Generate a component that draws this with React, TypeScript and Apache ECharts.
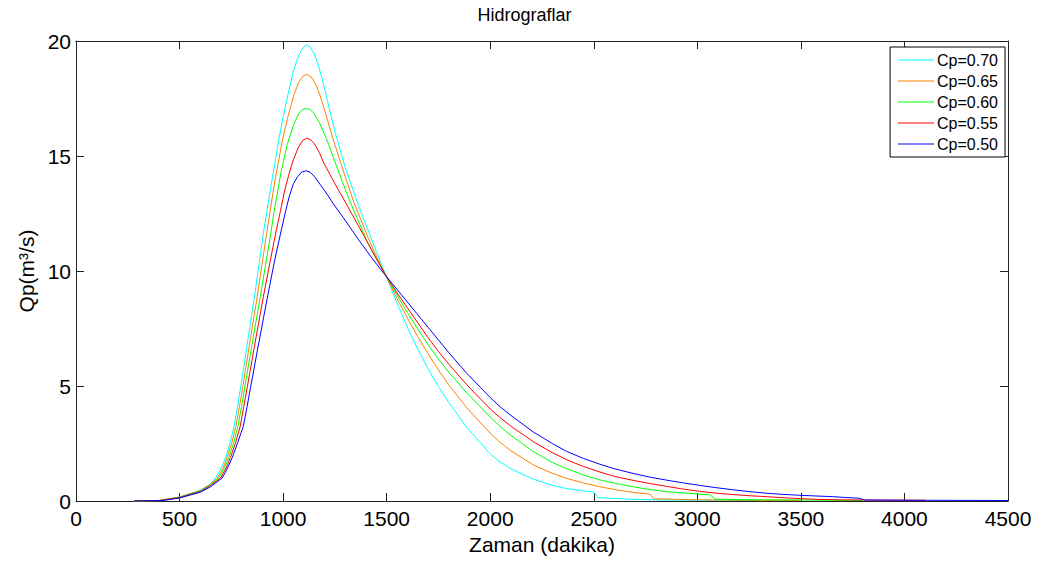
import React, { useEffect, useRef } from "react";
import * as echarts from "echarts";

const titleText = "Hidrograflar";
const xName = "Zaman (dakika)";
const yName = "Qp(m³/s)";
const xTicks = { min: 0, max: 4500, interval: 500 };
const yTicks = { min: 0, max: 20, interval: 5 };

const names = ["Cp=0.70", "Cp=0.65", "Cp=0.60", "Cp=0.55", "Cp=0.50"];
const colors = ["#00FFFF", "#FF8000", "#00FF00", "#FF0000", "#0000FF"];

const cp70T = [280, 400, 500, 600, 650, 674, 700, 723, 745, 763, 780, 795, 824, 862, 904, 940, 979, 1000, 1028, 1050, 1068, 1090, 1113, 1130, 1150, 1170, 1190, 1210, 1230, 1252, 1300, 1350, 1400, 1450, 1490, 1550, 1600, 1650, 1700, 1750, 1800, 1887, 2000, 2047, 2100, 2208, 2300, 2368, 2450, 2500, 2520, 2600, 2700, 2850, 3300];
const cp70Q = [0, 0.02, 0.18, 0.47, 0.75, 1.0, 1.4, 1.9, 2.55, 3.25, 4.1, 4.95, 6.65, 8.9, 11.6, 13.6, 15.7, 16.7, 17.85, 18.7, 19.2, 19.65, 19.84, 19.75, 19.45, 18.95, 18.3, 17.55, 16.8, 16.0, 14.5, 13.2, 12.0, 10.85, 9.95, 8.6, 7.55, 6.6, 5.75, 4.98, 4.28, 3.2, 2.05, 1.7, 1.4, 0.95, 0.68, 0.54, 0.44, 0.39, 0.15, 0.11, 0.07, 0.04, 0.02];

const cp65T = [280, 400, 500, 600, 650, 682, 708, 730, 753, 772, 789, 805, 835, 875, 920, 960, 995, 1020, 1050, 1075, 1095, 1113, 1130, 1150, 1170, 1190, 1215, 1244, 1300, 1341, 1413, 1450, 1490, 1550, 1600, 1650, 1700, 1750, 1800, 1887, 2000, 2047, 2100, 2208, 2300, 2368, 2450, 2529, 2600, 2689, 2770, 2790, 2900, 3000, 3500];
const cp65Q = [0, 0.02, 0.17, 0.45, 0.72, 1.0, 1.4, 1.9, 2.55, 3.25, 4.1, 4.95, 6.65, 8.9, 11.6, 13.9, 15.6, 16.6, 17.6, 18.2, 18.47, 18.55, 18.48, 18.25, 17.85, 17.3, 16.55, 15.65, 14.1, 13.0, 11.4, 10.65, 9.9, 8.8, 7.95, 7.15, 6.4, 5.7, 5.05, 4.05, 2.95, 2.55, 2.18, 1.57, 1.2, 0.99, 0.78, 0.62, 0.5, 0.37, 0.3, 0.1, 0.07, 0.05, 0.02];

const cp60T = [280, 400, 500, 600, 650, 690, 715, 738, 762, 782, 799, 815, 847, 890, 940, 955, 990, 1020, 1050, 1076, 1095, 1113, 1130, 1150, 1175, 1200, 1220, 1250, 1300, 1333, 1405, 1450, 1490, 1550, 1600, 1650, 1700, 1750, 1800, 1887, 2000, 2047, 2100, 2208, 2300, 2368, 2450, 2529, 2600, 2689, 2770, 2850, 2930, 3011, 3060, 3090, 3200, 3400, 3800];
const cp60Q = [0, 0.02, 0.16, 0.43, 0.7, 1.0, 1.4, 1.9, 2.55, 3.25, 4.1, 4.95, 6.65, 8.9, 11.6, 12.5, 14.3, 15.5, 16.35, 16.85, 17.03, 17.07, 17.02, 16.85, 16.45, 15.95, 15.5, 14.75, 13.55, 12.8, 11.3, 10.55, 9.9, 8.95, 8.2, 7.48, 6.8, 6.17, 5.6, 4.7, 3.65, 3.25, 2.85, 2.15, 1.68, 1.41, 1.13, 0.92, 0.77, 0.62, 0.5, 0.41, 0.35, 0.3, 0.27, 0.08, 0.06, 0.05, 0.02];

const cp55T = [280, 400, 500, 600, 650, 698, 723, 746, 771, 793, 810, 827, 860, 905, 963, 987, 1010, 1028, 1050, 1075, 1095, 1113, 1130, 1150, 1175, 1196, 1250, 1300, 1389, 1440, 1490, 1550, 1600, 1650, 1700, 1750, 1800, 1887, 2000, 2047, 2100, 2208, 2300, 2368, 2450, 2529, 2600, 2689, 2770, 2850, 2930, 3011, 3090, 3171, 3250, 3332, 3400, 3460, 3572, 3700, 4100];
const cp55Q = [0, 0.02, 0.15, 0.41, 0.68, 1.0, 1.4, 1.9, 2.55, 3.25, 4.1, 4.95, 6.65, 8.9, 11.6, 12.6, 13.6, 14.2, 14.85, 15.4, 15.68, 15.77, 15.72, 15.55, 15.15, 14.7, 13.8, 13.0, 11.55, 10.7, 9.9, 9.05, 8.4, 7.75, 7.1, 6.5, 5.95, 5.05, 4.0, 3.63, 3.25, 2.58, 2.1, 1.8, 1.5, 1.26, 1.07, 0.9, 0.76, 0.64, 0.52, 0.42, 0.34, 0.28, 0.23, 0.19, 0.15, 0.12, 0.07, 0.05, 0.03];

const cp50T = [280, 420, 500, 600, 650, 706, 730, 755, 781, 808, 826, 843, 878, 923, 960, 987, 1012, 1030, 1050, 1070, 1090, 1110, 1130, 1150, 1180, 1215, 1244, 1300, 1365, 1430, 1490, 1550, 1600, 1650, 1700, 1750, 1800, 1887, 2000, 2047, 2100, 2208, 2300, 2368, 2450, 2529, 2600, 2689, 2770, 2850, 2930, 3011, 3090, 3171, 3250, 3332, 3410, 3492, 3570, 3653, 3720, 3781, 3810, 4500];
const cp50Q = [0, 0.02, 0.13, 0.38, 0.62, 1.0, 1.4, 1.9, 2.55, 3.25, 4.1, 4.95, 6.65, 8.8, 10.5, 11.6, 12.6, 13.25, 13.8, 14.1, 14.3, 14.36, 14.3, 14.12, 13.75, 13.3, 12.9, 12.2, 11.35, 10.55, 9.85, 9.2, 8.65, 8.1, 7.55, 7.0, 6.45, 5.55, 4.5, 4.1, 3.72, 3.0, 2.5, 2.16, 1.85, 1.6, 1.4, 1.2, 1.04, 0.91, 0.79, 0.68, 0.58, 0.49, 0.41, 0.34, 0.29, 0.25, 0.22, 0.19, 0.15, 0.12, 0.04, 0.02];

const seriesT = [cp70T, cp65T, cp60T, cp55T, cp50T];
const seriesQ = [cp70Q, cp65Q, cp60Q, cp55Q, cp50Q];

const FONT = "'Liberation Sans', Arial, sans-serif";

export default function App() {
  const ref = useRef<HTMLDivElement>(null);
  useEffect(() => {
    if (!ref.current) return;
    const chart = echarts.init(ref.current, undefined, { renderer: "svg" });
    const series = names.map((n, i) => ({
      name: n,
      type: "line",
      xAxisIndex: 0,
      yAxisIndex: 0,
      showSymbol: false,
      symbol: "none",
      smooth: false,
      lineStyle: { width: 1, color: colors[i] },
      itemStyle: { color: colors[i] },
      data: seriesT[i].map((t, k) => [t, seriesQ[i][k]]),
    }));
    const axisLine = { show: true, onZero: false, lineStyle: { color: "#222", width: 1 } };
    const tick = { show: true, inside: true, length: 8, lineStyle: { color: "#222" } };
    chart.setOption({
      animation: false,
      backgroundColor: "#fff",
      title: {
        text: titleText,
        left: "center",
        top: 1,
        textStyle: { fontFamily: FONT, fontSize: 18, fontWeight: "normal", color: "#000" },
      },
      grid: { left: 76, right: 41, top: 41, bottom: 64 },
      legend: {
        data: names,
        orient: "vertical",
        right: 44,
        top: 47,
        icon: "rect",
        itemWidth: 36,
        itemHeight: 1,
        itemGap: 5,
        padding: [5, 7, 5, 8],
        borderColor: "#000",
        borderWidth: 1,
        backgroundColor: "#fff",
        textStyle: { fontFamily: FONT, fontSize: 16, color: "#000", lineHeight: 16, padding: [0, 0, 0, -2] },
      },
      xAxis: [
        {
          type: "value",
          min: xTicks.min,
          max: xTicks.max,
          interval: xTicks.interval,
          name: xName,
          nameLocation: "middle",
          nameGap: 32,
          nameTextStyle: { fontFamily: FONT, fontSize: 21, color: "#000" },
          axisLine,
          axisTick: tick,
          axisLabel: { fontFamily: FONT, fontSize: 21, color: "#000", margin: 7, formatter: (v: number) => String(v) },
          splitLine: { show: false },
        },
        {
          type: "value",
          position: "top",
          min: xTicks.min,
          max: xTicks.max,
          interval: xTicks.interval,
          axisLine,
          axisTick: tick,
          axisLabel: { show: false },
          splitLine: { show: false },
        },
      ],
      yAxis: [
        {
          type: "value",
          min: yTicks.min,
          max: yTicks.max,
          interval: yTicks.interval,
          name: yName,
          nameLocation: "middle",
          nameGap: 34,
          nameTextStyle: { fontFamily: FONT, fontSize: 21, color: "#000" },
          axisLine,
          axisTick: tick,
          axisLabel: { fontFamily: FONT, fontSize: 21, color: "#000", margin: 5, formatter: (v: number) => String(v) },
          splitLine: { show: false },
        },
        {
          type: "value",
          position: "right",
          min: yTicks.min,
          max: yTicks.max,
          interval: yTicks.interval,
          axisLine,
          axisTick: tick,
          axisLabel: { show: false },
          splitLine: { show: false },
        },
      ],
      series,
    });
    return () => chart.dispose();
  }, []);
  return <div ref={ref} style={{ width: 1049, height: 565, position: "absolute", left: 0, top: 0 }} />;
}
